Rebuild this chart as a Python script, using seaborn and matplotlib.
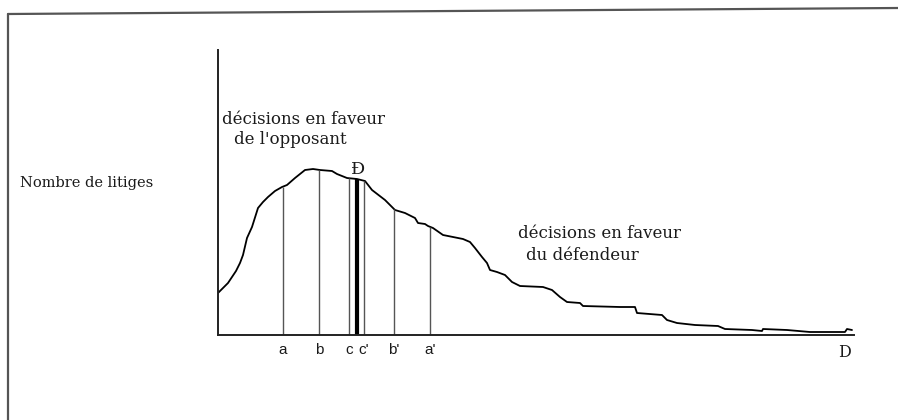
import numpy as np
import pandas as pd
import matplotlib
matplotlib.use("Agg")
import matplotlib.pyplot as plt
import seaborn as sns
from matplotlib.lines import Line2D

# ── Data (units: position along D axis / number of disputes) ──
curve_x = [0, 10, 18, 22, 25, 29, 34, 40, 45, 50, 57, 64, 69, 77, 87, 95, 102,
           114, 119, 129, 139, 147, 154, 167, 177, 187, 197, 200, 207, 210, 215,
           225, 235, 245, 252, 257, 264, 269, 272, 279, 287, 294, 302, 325, 334,
           342, 349, 362, 365, 402, 417, 419, 444, 449, 459, 477, 500, 507, 534,
           544, 545, 569, 592, 627, 629, 634]
curve_y = [42, 52, 64, 72, 80, 97, 108, 127, 133, 138, 144, 148, 150, 157, 165,
           166, 165, 164, 161, 157, 156, 154, 145, 135, 125, 122, 117, 112, 111,
           109, 107, 100, 98, 96, 93, 87, 78, 72, 65, 63, 60, 53, 49, 48, 45, 38,
           33, 32, 29, 28, 28, 22, 20, 15, 12, 10, 9, 6, 5, 4, 6, 5, 3, 3, 6, 5]

mark_x = [65, 101, 131, 146, 176, 212]
mark_labels = ["a", "b", "c", "c'", "b'", "a'"]
median_x = 139

W, H = 898, 420
INK = "#1a1a1a"

# ── Style ──
sns.set_theme(style="white")
plt.rcParams["font.family"] = ["DejaVu Serif", "DejaVu Sans"]
plt.rcParams["text.color"] = INK
plt.rcParams["xtick.color"] = INK

fig = plt.figure(figsize=(W / 100, H / 100), dpi=100, facecolor="white")
ax = fig.add_axes([218 / W, (H - 335) / H, 636 / W, 285 / H])

df = pd.DataFrame({"D": curve_x, "n": curve_y})
sns.lineplot(data=df, x="D", y="n", ax=ax, color="black", linewidth=1.3,
             sort=False, estimator=None)

# vertical markers up to the curve
tops = np.interp(mark_x, curve_x, curve_y)
ax.vlines(mark_x, 0, tops, color="#555555", linewidth=1.0)
ax.vlines([median_x], 0, [np.interp(median_x, curve_x, curve_y)],
          color="black", linewidth=3.0)

ax.set_xlim(0, 636)
ax.set_ylim(0, 285)
ax.set_xticks(mark_x)
ax.set_xticklabels(mark_labels, family="Liberation Sans", fontsize=11, color=INK)
ax.tick_params(axis="x", length=0, pad=6)
ax.set_yticks([])
ax.set_xlabel("")
ax.set_ylabel("")
for side in ["top", "right"]:
    ax.spines[side].set_visible(False)
for side in ["left", "bottom"]:
    ax.spines[side].set_color("#222222")
    ax.spines[side].set_linewidth(1.4)

# annotations
ax.text(median_x + 1, 166, "Đ", ha="center", va="center", fontsize=12.5)
ax.text(620, -9, "D", ha="left", va="top", fontsize=11.5)
fig.text(20 / W, 1 - 183 / H, "Nombre de litiges", ha="left", va="center",
         fontsize=10.5)
fig.text(222 / W, 1 - 120 / H, "décisions en faveur", ha="left", va="center",
         fontsize=12)
fig.text(234 / W, 1 - 139 / H, "de l'opposant", ha="left", va="center",
         fontsize=12)
fig.text(518 / W, 1 - 233 / H, "décisions en faveur", ha="left", va="center",
         fontsize=12)
fig.text(526 / W, 1 - 256 / H, "du défendeur", ha="left", va="center",
         fontsize=12)

# scanned page frame
fig.add_artist(Line2D([8 / W, 8 / W], [0, 1 - 14 / H], transform=fig.transFigure,
                      color="#555555", linewidth=1.6))
fig.add_artist(Line2D([8 / W, 1], [1 - 14 / H, 1 - 8 / H], transform=fig.transFigure,
                      color="#555555", linewidth=1.6))

fig.savefig("out.png", dpi=100, facecolor="white")
